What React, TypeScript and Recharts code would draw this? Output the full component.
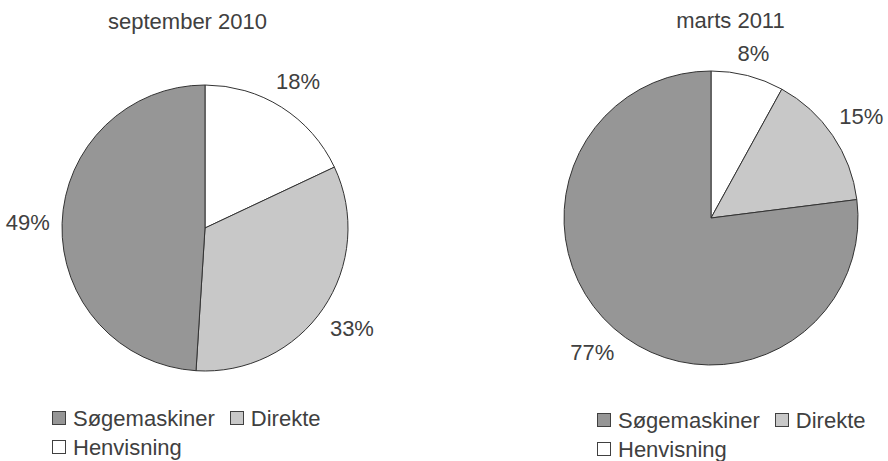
import { PieChart, Pie, Cell, Legend } from 'recharts';

// slice order runs clockwise from 12 o'clock
const categories = ['Henvisning', 'Direkte', 'Søgemaskiner'];
const legendOrder = ['Søgemaskiner', 'Direkte', 'Henvisning'];
const sep2010 = [18, 33, 49];
const mar2011 = [8, 15, 77];
const periods = ['september 2010', 'marts 2011'];

const COLORS: Record<string, string> = {
  Henvisning: '#ffffff',
  Direkte: '#c8c8c8',
  Søgemaskiner: '#969696',
};
const TEXT = '#404040';
const FONT = '"Liberation Sans", Arial, Helvetica, sans-serif';
const FS = 22;

const toRows = (values: number[]) => categories.map((name, i) => ({ name, value: values[i] }));

const charts = [
  { title: periods[0], data: toRows(sep2010), left: 0, cx: 205, cy: 228, r: 143, titleX: 187.5, titleTop: 11, legendLeft: 52, legendTop: 403.5 },
  { title: periods[1], data: toRows(mar2011), left: 444, cx: 267, cy: 218, r: 147, titleX: 286.5, titleTop: 10, legendLeft: 153, legendTop: 405.5 },
];

const RAD = Math.PI / 180;

// place the label box just outside the rim, like the "outside end" placement
function renderLabel(props: any) {
  const { cx, cy, midAngle, outerRadius, value } = props;
  const text = `${value}%`;
  const hw = ((text.length - 1) * 0.556 + 0.889) * FS / 2;
  const hh = 0.716 * FS / 2;
  const dx = Math.cos(-midAngle * RAD);
  const dy = Math.sin(-midAngle * RAD);
  const extent = Math.abs(hw * dx) + Math.abs(hh * dy);
  const rr = outerRadius + 12 + extent;
  const x = cx + rr * dx;
  const y = cy + rr * dy;
  return (
    <text x={x} y={y + hh} textAnchor="middle" fill={TEXT} fontSize={FS} fontFamily={FONT}>
      {text}
    </text>
  );
}

function LegendContent(props: any) {
  const payload = props.payload || [];
  const items = legendOrder.map((name) => payload.find((p: any) => p.value === name) || { value: name });
  return (
    <div style={{ display: 'flex', flexWrap: 'wrap', fontFamily: FONT, fontSize: FS, color: TEXT, lineHeight: '29px' }}>
      {items.map((item: any) => (
        <div key={item.value} style={{ display: 'inline-flex', alignItems: 'center', marginRight: 15, height: 29 }}>
          <span
            style={{
              display: 'inline-block',
              width: 14,
              height: 14,
              boxSizing: 'border-box',
              border: '1px solid #404040',
              background: COLORS[item.value] || item.color,
              marginRight: 7,
            }}
          />
          <span>{item.value}</span>
        </div>
      ))}
    </div>
  );
}

export default function App() {
  return (
    <div style={{ position: 'absolute', left: 0, top: 0, width: 888, height: 461, background: '#fff', overflow: 'hidden' }}>
      {charts.map((c) => (
        <div key={c.title} style={{ position: 'absolute', left: c.left, top: 0, width: 444, height: 461 }}>
          <PieChart width={444} height={461} margin={{ top: 0, right: 0, bottom: 0, left: 0 }}>
            <Pie
              data={c.data}
              dataKey="value"
              nameKey="name"
              cx={c.cx}
              cy={c.cy}
              outerRadius={c.r}
              startAngle={90}
              endAngle={-270}
              stroke="#333333"
              strokeWidth={1}
              labelLine={false}
              label={renderLabel}
              isAnimationActive={false}
            >
              {c.data.map((d) => (
                <Cell key={d.name} fill={COLORS[d.name]} />
              ))}
            </Pie>
            <Legend
              content={<LegendContent />}
              wrapperStyle={{ left: c.legendLeft, top: c.legendTop, bottom: 'auto', width: 300 }}
            />
          </PieChart>
          <div
            style={{
              position: 'absolute',
              left: c.titleX - 150,
              top: c.titleTop,
              width: 300,
              textAlign: 'center',
              fontFamily: FONT,
              fontSize: FS,
              lineHeight: '22px',
              color: TEXT,
            }}
          >
            {c.title}
          </div>
        </div>
      ))}
    </div>
  );
}
